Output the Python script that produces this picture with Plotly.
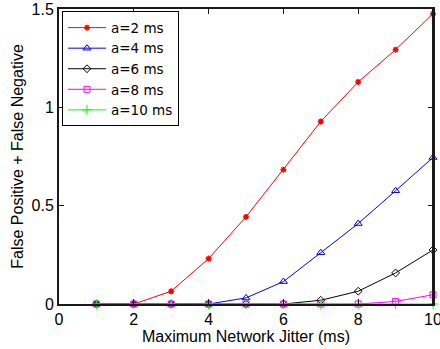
import plotly.graph_objects as go

jitter = [1, 2, 3, 4, 5, 6, 7, 8, 9, 10]
a2 = [0, 0, 0.065, 0.231, 0.443, 0.683, 0.928, 1.129, 1.293, 1.476]
a4 = [0, 0, 0, 0, 0.031, 0.114, 0.261, 0.409, 0.576, 0.745]
a6 = [0, 0, 0, 0, 0, 0, 0.019, 0.065, 0.158, 0.275]
a8 = [0, 0, 0, 0, 0, 0, 0, 0, 0.013, 0.047]
a10 = [0, 0, 0, 0, 0, 0, 0, 0, 0, 0]

y_ticks = [0, 0.5, 1, 1.5]
y_ticktext = ["0", "0.5", "1", "1.5"]
x_ticks = [0, 2, 4, 6, 8, 10]

series = [
    ("a=2 ms", a2, "#ff0000", "asterisk-open", 5, 1.5),
    ("a=4 ms", a4, "#0000ff", "triangle-up-open", 7, 1),
    ("a=6 ms", a6, "#000000", "diamond-open", 6, 1),
    ("a=8 ms", a8, "#ff00ff", "square-open", 6, 1),
    ("a=10 ms", a10, "#00ff00", "cross-thin-open", 7, 1),
]

fig = go.Figure()
for name, ys, color, sym, sz, lw in series:
    fig.add_trace(go.Scatter(
        x=jitter, y=ys, name=name, mode="lines+markers",
        line=dict(color=color, width=1),
        marker=dict(symbol=sym, size=sz, color=color, line=dict(color=color, width=lw)),
        cliponaxis=False,
    ))

font = "Arial, Liberation Sans, Helvetica, sans-serif"
axcol = "#1a1a1a"
fig.update_layout(
    width=440, height=349,
    margin=dict(l=59, r=7, t=9, b=45, autoexpand=False),
    paper_bgcolor="white", plot_bgcolor="white",
    font=dict(family=font, size=16, color="black"),
    showlegend=True,
    legend=dict(x=0.008, y=0.992, xanchor="left", yanchor="top",
                bgcolor="white", bordercolor="black", borderwidth=1,
                font=dict(size=13.5, family="DejaVu Sans, sans-serif"),
                tracegroupgap=0, itemwidth=38),
    xaxis=dict(range=[0, 10], tickvals=x_ticks,
               ticks="inside", ticklen=5, tickcolor=axcol, tickwidth=1,
               showline=True, linecolor=axcol, linewidth=2, mirror="ticks",
               showgrid=False, zeroline=False, automargin=False,
               ticklabeloverflow="allow",
               tickfont=dict(size=16),
               title=dict(text="Maximum Network Jitter (ms)", standoff=0, font=dict(size=16))),
    yaxis=dict(range=[0, 1.5], tickvals=y_ticks, ticktext=y_ticktext,
               ticks="inside", ticklen=5, tickcolor=axcol, tickwidth=1,
               showline=True, linecolor=axcol, linewidth=2, mirror="ticks",
               showgrid=False, zeroline=False, automargin=False,
               ticklabeloverflow="allow",
               tickfont=dict(size=16),
               title=dict(text="False Positive + False Negative", standoff=4, font=dict(size=16))),
    shapes=[dict(type="line", xref="paper", yref="paper", x0=1, x1=1, y0=0, y1=1,
                 line=dict(color=axcol, width=2), layer="above")],
)

fig.write_html("out.html", config={"displayModeBar": False},
               post_script="document.body.style.margin='0';document.body.style.overflow='hidden';")
